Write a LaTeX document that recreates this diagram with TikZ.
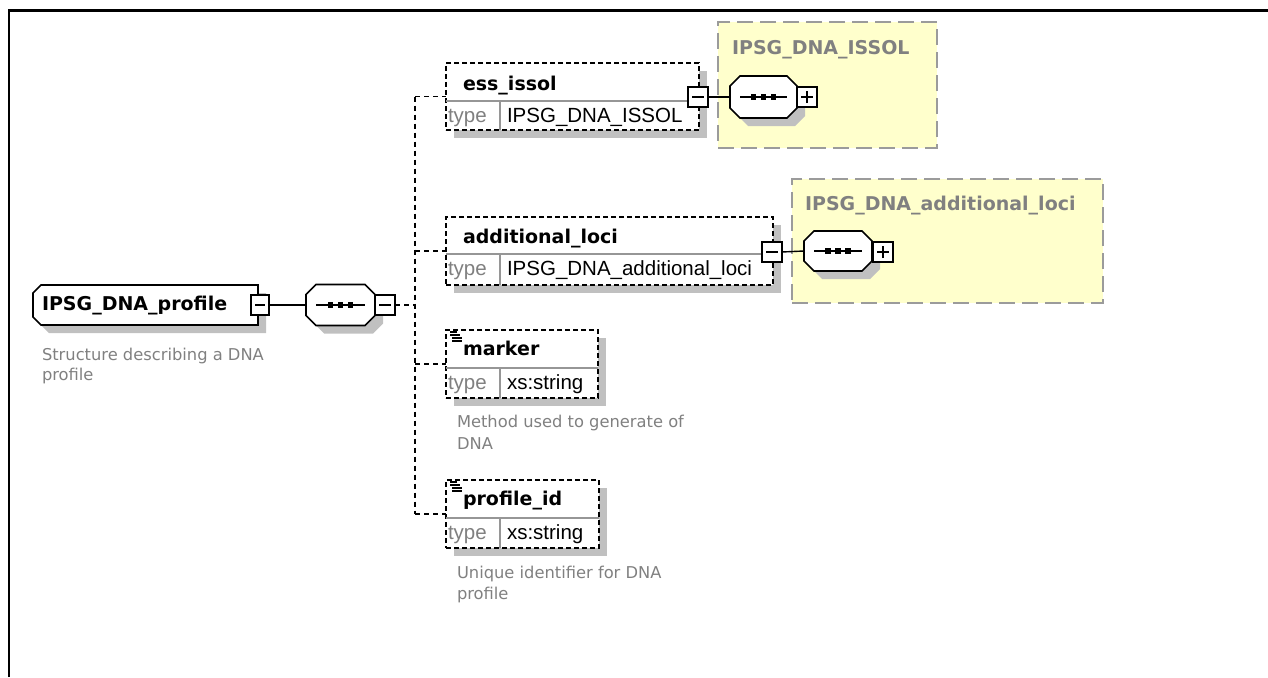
\documentclass[tikz,border=0pt]{standalone}
\usepackage{fontspec}
\setmainfont{DejaVu Sans}
\newfontfamily\arialf{Liberation Sans}
\usetikzlibrary{shadows}
\definecolor{shadowgray}{RGB}{192,192,192}
\definecolor{txtgray}{RGB}{128,128,128}
\definecolor{boxyellow}{RGB}{255,255,204}
\definecolor{bordergray}{RGB}{155,155,155}
\definecolor{divgray}{RGB}{150,150,150}
% octagon outline around a named node: #1 node, #2 left chamfer, #3 right chamfer
\newcommand\octpath[3]{([xshift=#2]#1.north west) -- ([xshift=-#3]#1.north east) -- ([yshift=-#3]#1.north east) -- ([yshift=#3]#1.south east) -- ([xshift=-#3]#1.south east) -- ([xshift=#2]#1.south west) -- ([yshift=#2]#1.south west) -- ([yshift=-#2]#1.north west) -- cycle}
\newcommand\octdraw[3]{%
  \fill[shadowgray,transform canvas={shift={(8pt,-8pt)}}] \octpath{#1}{#2}{#3};
  \filldraw[fill=white,draw=black,line width=1.6pt] \octpath{#1}{#2}{#3};}
\newcommand\seqdraw[1]{%
  \octdraw{#1}{10pt}{10pt}
  \draw[line width=1.5pt] ([xshift=10pt]#1.west) -- ([xshift=-10pt]#1.east);
  \foreach \dx in {-10,0,10}{\fill[black] ([xshift=\dx pt]#1.center) +(-2.7pt,-2.7pt) rectangle +(2.7pt,2.7pt);}}
\begin{document}
\begin{tikzpicture}[x=1pt,y=-1pt,
  every node/.style={inner sep=0pt,outer sep=0pt},
  shad/.style={drop shadow={shadow xshift=8pt,shadow yshift=-8pt,fill=shadowgray,draw=none,opacity=1}},
  elbox/.style={rectangle,anchor=north west,draw=black,line width=1.5pt,dash pattern=on 5pt off 3pt,fill=white,shad},
  typebox/.style={rectangle,anchor=north west,draw=bordergray,line width=1.8pt,dash pattern=on 16pt off 7pt,fill=boxyellow},
  holder/.style={rectangle,draw=none},
  minusbox/.style={rectangle,draw=black,line width=1.8pt,fill=white,minimum size=20pt,
    path picture={\draw[line width=1.6pt] ([xshift=4pt]path picture bounding box.west) -- ([xshift=-4pt]path picture bounding box.east);}},
  plusbox/.style={rectangle,draw=black,line width=1.8pt,fill=white,minimum size=20pt,
    path picture={\draw[line width=1.6pt] ([xshift=4pt]path picture bounding box.west) -- ([xshift=-4pt]path picture bounding box.east);
      \draw[line width=1.6pt] ([yshift=4pt]path picture bounding box.south) -- ([yshift=-4pt]path picture bounding box.north);}},
  solidconn/.style={draw=black,line width=1.4pt},
  dashconn/.style={draw=black,line width=1.4pt,dash pattern=on 5pt off 4pt},
  divider/.style={draw=divgray,line width=1.2pt},
  namefont/.style={anchor=base west,font=\fontsize{19}{22}\selectfont\bfseries},
  titlefont/.style={anchor=base west,text=txtgray,font=\fontsize{19}{22}\selectfont\bfseries},
  typelbl/.style={anchor=base west,text=txtgray,font=\arialf\fontsize{20.5}{24}\selectfont},
  typeval/.style={anchor=base west,font=\arialf\fontsize{20.5}{24}\selectfont},
  desc/.style={anchor=base west,text=txtgray,font=\fontsize{16.3}{21}\selectfont}
]
\useasboundingbox (0,0) rectangle (1268,677);
% frame
\draw[line width=2.4pt] (8.7,677) -- (8.7,10.7) -- (1268,10.7);

% yellow type boxes
\node[typebox,minimum width=219pt,minimum height=126pt] (y1) at (718,22) {};
\node[titlefont] (y1t) at (732,55) {IPSG\_DNA\_ISSOL};
\node[typebox,minimum width=311pt,minimum height=124pt] (y2) at (792,179) {};
\node[titlefont] (y2t) at (805,210) {IPSG\_DNA\_additional\_loci};

% root
\node[holder,minimum width=225pt,minimum height=40pt] (root) at (145.5,305) {};
\octdraw{root}{8pt}{0pt}
\node[namefont] (roott) at (42,310) {IPSG\_DNA\_profile};
\node[minusbox,minimum width=18pt] (rootm) at (260,305) {};
\node[desc] (rootd1) at (42,360) {Structure describing a DNA};
\node[desc] (rootd2) at (42,380) {profile};

% sequence 0
\node[holder,minimum width=69pt,minimum height=41pt] (seq0) at (340.5,305) {};
\seqdraw{seq0}
\node[minusbox] (seq0m) at (385,305) {};
\coordinate (j) at (415,305);

% ess_issol
\node[elbox,minimum width=253pt,minimum height=67pt] (ess) at (446,63) {};
\draw[divider] (446,101) -- (699,101);
\draw[divider] (500,101) -- (500,130);
\node[namefont] (esst) at (463,90) {ess\_issol};
\node[typelbl] (essl) at (448,122) {type};
\node[typeval] (essv) at (507,122) {IPSG\_DNA\_ISSOL};
\node[minusbox] (essm) at (698,97) {};

% additional_loci
\node[elbox,minimum width=327pt,minimum height=68pt] (add) at (446,217) {};
\draw[divider] (446,254) -- (773,254);
\draw[divider] (500,254) -- (500,285);
\node[namefont] (addt) at (463,243) {additional\_loci};
\node[typelbl] (addl) at (448,275) {type};
\node[typeval] (addv) at (507,275) {IPSG\_DNA\_additional\_loci};
\node[minusbox] (addm) at (772,252) {};

% marker
\node[elbox,minimum width=152pt,minimum height=68pt] (mk) at (446,330) {};
\draw[divider] (446,368) -- (598,368);
\draw[divider] (500,368) -- (500,398);
\node[namefont] (mkt) at (463,355) {marker};
\node[typelbl] (mkl) at (448,389) {type};
\node[typeval] (mkv) at (507,389) {xs:string};
\foreach \dy/\xa/\xb in {0/450/457,3/450/460,6/452/462,9/452/462}
  \draw[line width=1.1pt] (\xa,332+\dy) -- (\xb,332+\dy);
\node[desc] (mkd1) at (457,427) {Method used to generate of};
\node[desc] (mkd2) at (457,449) {DNA};

% profile_id
\node[elbox,minimum width=153pt,minimum height=68pt] (pid) at (446,480) {};
\draw[divider] (446,518) -- (599,518);
\draw[divider] (500,518) -- (500,548);
\node[namefont] (pidt) at (463,505) {profile\_id};
\node[typelbl] (pidl) at (448,539) {type};
\node[typeval] (pidv) at (507,539) {xs:string};
\foreach \dy/\xa/\xb in {0/450/457,3/450/460,6/452/462,9/452/462}
  \draw[line width=1.1pt] (\xa,482+\dy) -- (\xb,482+\dy);
\node[desc] (pidd1) at (457,578) {Unique identifier for DNA};
\node[desc] (pidd2) at (457,599) {profile};

% sequences inside type boxes
\node[holder,minimum width=67pt,minimum height=42pt] (seq1) at (763.5,97) {};
\seqdraw{seq1}
\node[plusbox] (seq1p) at (807,97) {};
\node[holder,minimum width=68pt,minimum height=40pt] (seq2) at (838,251) {};
\seqdraw{seq2}
\node[plusbox] (seq2p) at (883,252) {};

% connectors
\draw[solidconn] (rootm.east) -- (seq0.west);
\draw[dashconn] (seq0m.east) -- (j);
\draw[dashconn] (ess.west -| j) -- (pid.west -| j);
\draw[dashconn] (ess.west -| j) -- (ess.west);
\draw[dashconn] (add.west -| j) -- (add.west);
\draw[dashconn] (mk.west -| j) -- (mk.west);
\draw[dashconn] (pid.west -| j) -- (pid.west);
\draw[solidconn] (essm.east) -- (seq1.west);
\draw[solidconn] (addm.east) -- (seq2.west);
\end{tikzpicture}
\end{document}
